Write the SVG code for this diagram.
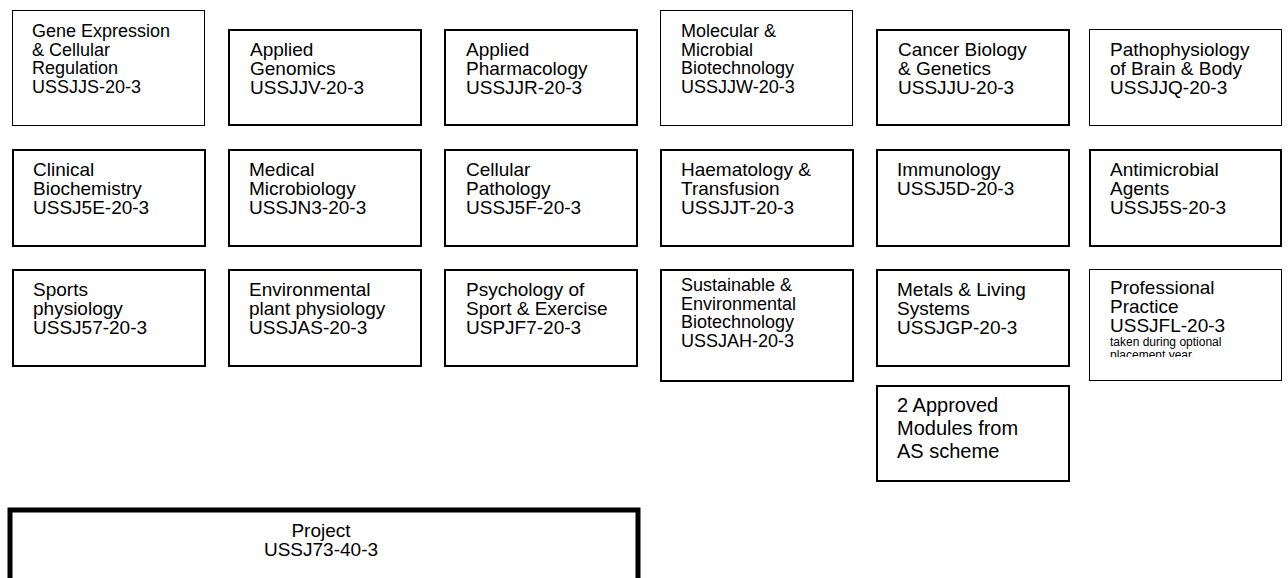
<svg xmlns="http://www.w3.org/2000/svg" width="1288" height="578" viewBox="0 0 1288 578">
<style>
  .thin { fill: #fff; stroke: #000; stroke-width: 1; }
  .thick { fill: #fff; stroke: #000; stroke-width: 2; }
  .proj { fill: #fff; stroke: #000; stroke-width: 5; }
  text { font-family: "Liberation Sans", Arial, sans-serif; font-size: 19px; fill: #000; }
  .s4 { font-size: 18px; }
  .sm { font-size: 12px; }
  .big { font-size: 20px; }
</style>
<defs>
  <clipPath id="ppclip"><rect x="1089" y="269" width="193" height="88"/></clipPath>
</defs>
<g id="n-gene">
  <rect class="thin" x="12.5" y="10.5" width="192" height="115"/>
  <text class="s4" x="32"><tspan x="32" y="37">Gene Expression</tspan><tspan x="32" y="55.5">&amp; Cellular</tspan><tspan x="32" y="74">Regulation</tspan><tspan x="32" y="92.5">USSJJS-20-3</tspan></text>
</g>
<g id="n-genomics">
  <rect class="thick" x="229" y="30" width="192" height="95"/>
  <text><tspan x="250" y="56">Applied</tspan><tspan x="250" y="75">Genomics</tspan><tspan x="250" y="94">USSJJV-20-3</tspan></text>
</g>
<g id="n-pharm">
  <rect class="thick" x="445" y="30" width="192" height="95"/>
  <text><tspan x="466" y="56">Applied</tspan><tspan x="466" y="75">Pharmacology</tspan><tspan x="466" y="94">USSJJR-20-3</tspan></text>
</g>
<g id="n-molecular">
  <rect class="thin" x="660.5" y="10.5" width="192" height="115"/>
  <text class="s4"><tspan x="681" y="37">Molecular &amp;</tspan><tspan x="681" y="55.5">Microbial</tspan><tspan x="681" y="74">Biotechnology</tspan><tspan x="681" y="92.5">USSJJW-20-3</tspan></text>
</g>
<g id="n-cancer">
  <rect class="thick" x="877" y="30" width="192" height="95"/>
  <text><tspan x="898" y="56">Cancer Biology</tspan><tspan x="898" y="75">&amp; Genetics</tspan><tspan x="898" y="94">USSJJU-20-3</tspan></text>
</g>
<g id="n-patho">
  <rect class="thin" x="1089.5" y="29.5" width="192" height="96"/>
  <text><tspan x="1110" y="56">Pathophysiology</tspan><tspan x="1110" y="75">of Brain &amp; Body</tspan><tspan x="1110" y="94">USSJJQ-20-3</tspan></text>
</g>

<g id="n-clinical">
  <rect class="thick" x="13" y="150" width="192" height="96"/>
  <text><tspan x="33" y="176">Clinical</tspan><tspan x="33" y="195">Biochemistry</tspan><tspan x="33" y="214">USSJ5E-20-3</tspan></text>
</g>
<g id="n-medical">
  <rect class="thick" x="229" y="150" width="192" height="96"/>
  <text><tspan x="249" y="176">Medical</tspan><tspan x="249" y="195">Microbiology</tspan><tspan x="249" y="214">USSJN3-20-3</tspan></text>
</g>
<g id="n-cellular">
  <rect class="thick" x="445" y="150" width="192" height="96"/>
  <text><tspan x="466" y="176">Cellular</tspan><tspan x="466" y="195">Pathology</tspan><tspan x="466" y="214">USSJ5F-20-3</tspan></text>
</g>
<g id="n-haem">
  <rect class="thick" x="661" y="150" width="192" height="96"/>
  <text><tspan x="681" y="176">Haematology &amp;</tspan><tspan x="681" y="195">Transfusion</tspan><tspan x="681" y="214">USSJJT-20-3</tspan></text>
</g>
<g id="n-immuno">
  <rect class="thick" x="877" y="150" width="192" height="96"/>
  <text><tspan x="897" y="176">Immunology</tspan><tspan x="897" y="195">USSJ5D-20-3</tspan></text>
</g>
<g id="n-antimicrobial">
  <rect class="thick" x="1090" y="150" width="191" height="96"/>
  <text><tspan x="1110" y="176">Antimicrobial</tspan><tspan x="1110" y="195">Agents</tspan><tspan x="1110" y="214">USSJ5S-20-3</tspan></text>
</g>

<g id="n-sports">
  <rect class="thick" x="13" y="270" width="192" height="96"/>
  <text><tspan x="33" y="296">Sports</tspan><tspan x="33" y="315">physiology</tspan><tspan x="33" y="334">USSJ57-20-3</tspan></text>
</g>
<g id="n-envplant">
  <rect class="thick" x="229" y="270" width="192" height="96"/>
  <text><tspan x="249" y="296">Environmental</tspan><tspan x="249" y="315">plant physiology</tspan><tspan x="249" y="334">USSJAS-20-3</tspan></text>
</g>
<g id="n-psych">
  <rect class="thick" x="445" y="270" width="192" height="96"/>
  <text><tspan x="466" y="296">Psychology of</tspan><tspan x="466" y="315">Sport &amp; Exercise</tspan><tspan x="466" y="334">USPJF7-20-3</tspan></text>
</g>
<g id="n-sustainable">
  <rect class="thick" x="661" y="270" width="192" height="111"/>
  <text class="s4"><tspan x="681" y="291">Sustainable &amp;</tspan><tspan x="681" y="309.5">Environmental</tspan><tspan x="681" y="328">Biotechnology</tspan><tspan x="681" y="346.5">USSJAH-20-3</tspan></text>
</g>
<g id="n-metals">
  <rect class="thick" x="877" y="270" width="192" height="96"/>
  <text><tspan x="897" y="296">Metals &amp; Living</tspan><tspan x="897" y="315">Systems</tspan><tspan x="897" y="334">USSJGP-20-3</tspan></text>
</g>
<g id="n-professional">
  <rect class="thin" x="1089.5" y="269.5" width="192" height="111"/>
  <g clip-path="url(#ppclip)">
    <text><tspan x="1110" y="294">Professional</tspan><tspan x="1110" y="313">Practice</tspan><tspan x="1110" y="332">USSJFL-20-3</tspan></text>
    <text class="sm"><tspan x="1110" y="346">taken during optional</tspan><tspan x="1110" y="359">placement year</tspan></text>
  </g>
</g>
<g id="n-approved">
  <rect class="thick" x="877" y="386" width="192" height="95"/>
  <text class="big"><tspan x="897" y="412">2 Approved</tspan><tspan x="897" y="435">Modules from</tspan><tspan x="897" y="458">AS scheme</tspan></text>
</g>

<g id="n-project">
  <rect class="proj" x="10" y="510" width="628" height="80"/>
  <text text-anchor="middle"><tspan x="321" y="537">Project</tspan><tspan x="321" y="556">USSJ73-40-3</tspan></text>
</g>
<g id="connectors"></g>
</svg>
